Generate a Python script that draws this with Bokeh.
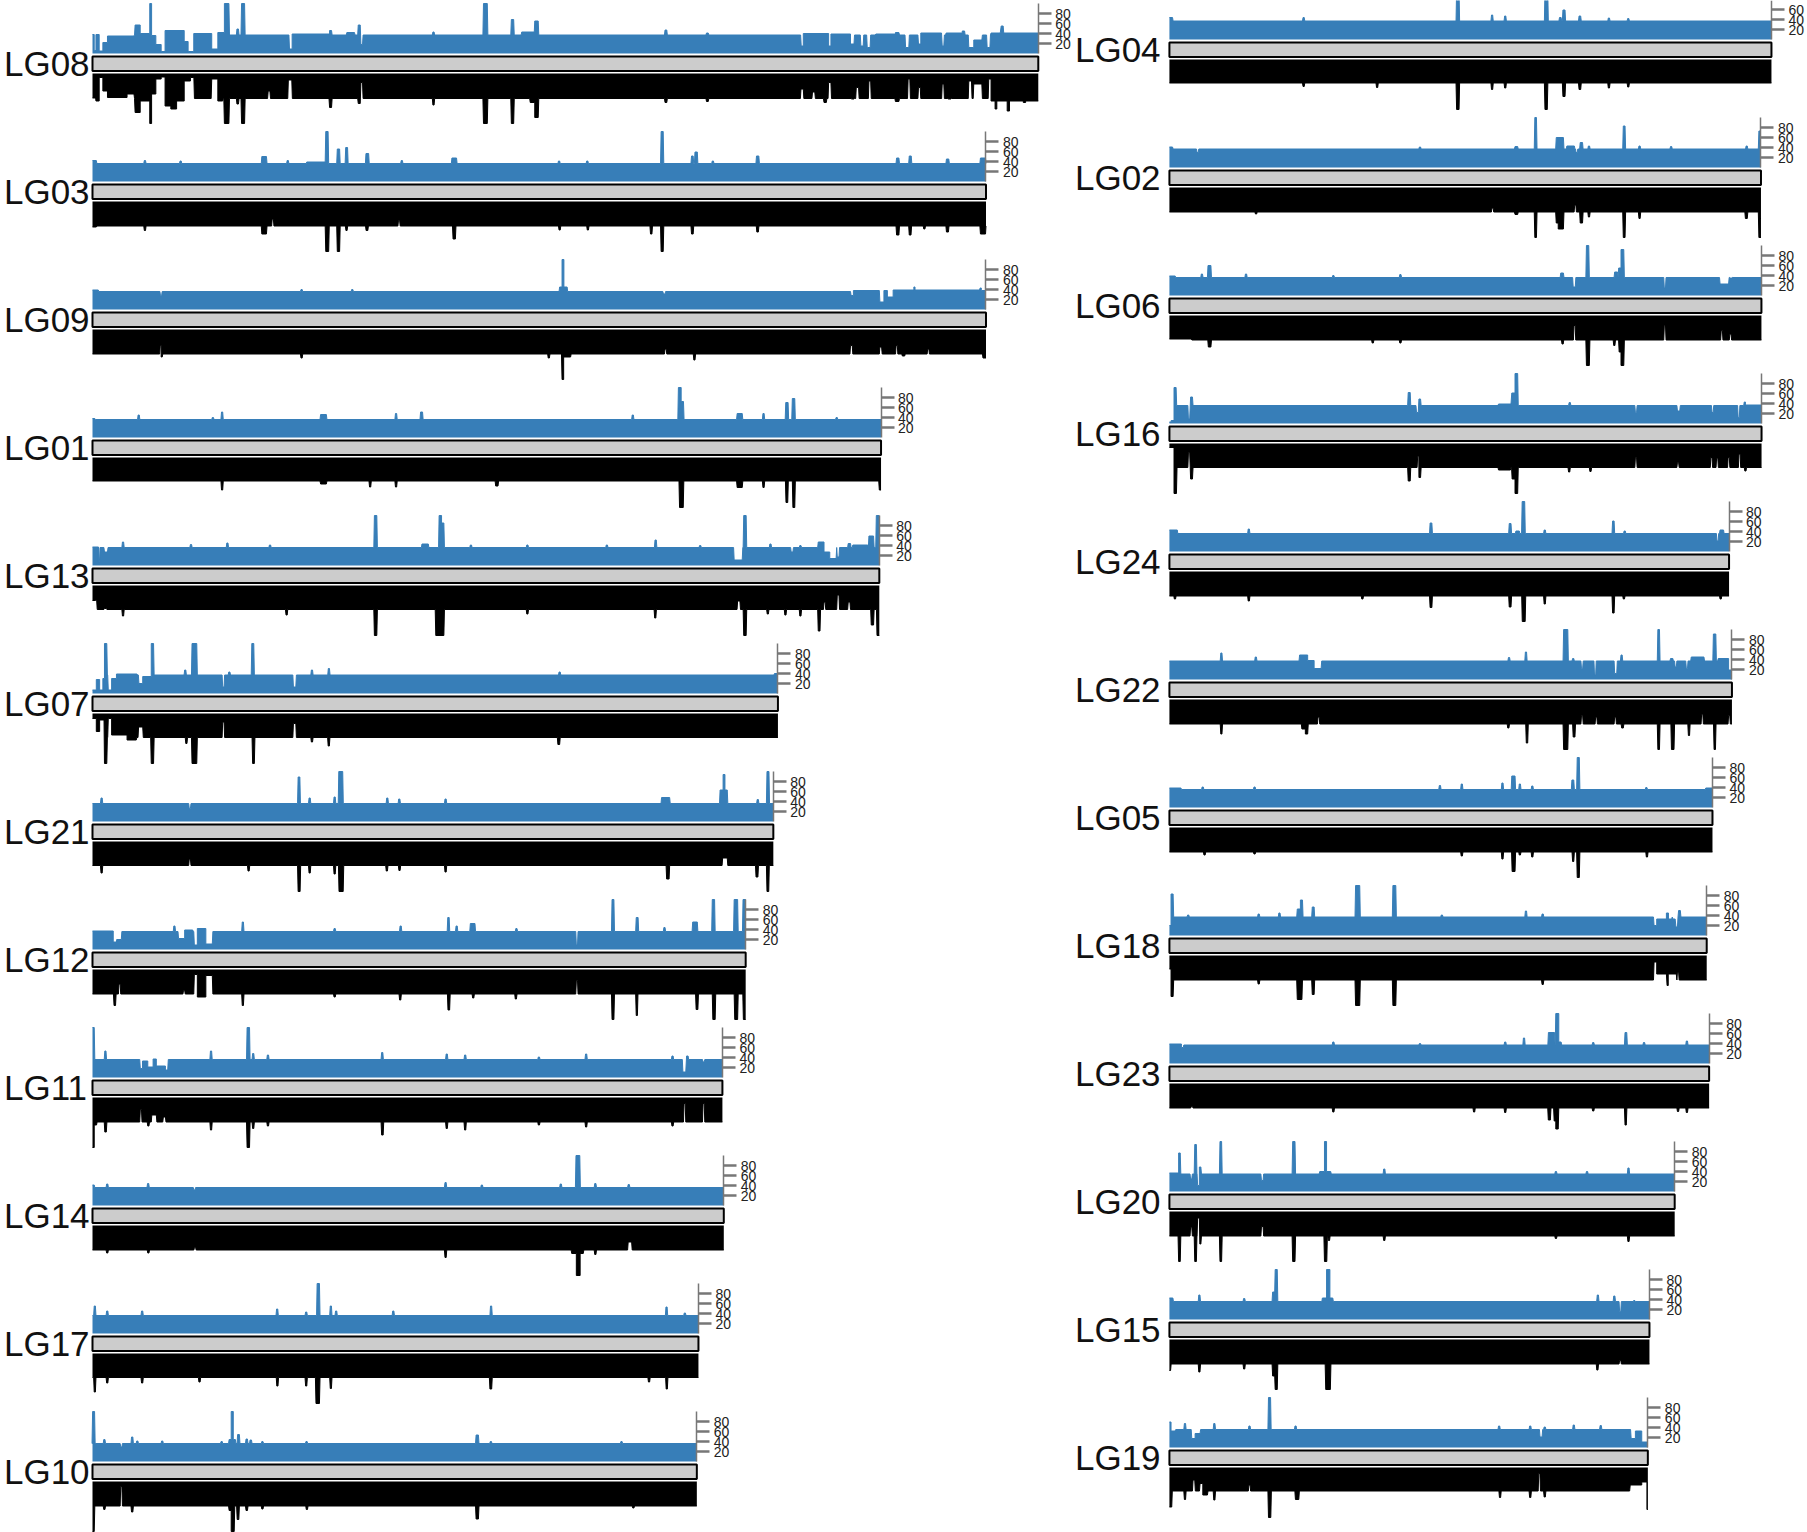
# read depth plots for the 24 linkage groups, blue up / black down with the ideogram between
from bokeh.core.properties import value
from bokeh.embed import file_html
from bokeh.layouts import column, row
from bokeh.models import FixedTicker, LinearAxis, Range1d
from bokeh.plotting import figure
from bokeh.resources import INLINE

# each list holds (from bin, to bin, depth), the rest of a group stays on its base depth
LG08_len = 821
LG08_up_base = 37
LG08_up = [(0,1.5,38),(1.5,3,6),(3,5.8,38),(5.8,9,5),(9,13,22),(13,36,35),(37,41.4,57),(41.4,49.7,40),(49.7,51.3,100),(51.3,55,36),(55,59.6,18),(59.6,63,4),(63,79.6,46),(79.6,83,24),(83,87.9,4),(87.9,103.5,40),(103.5,108.8,9),(108.8,114.5,42),(114.5,118.4,100),(125.4,126.7,49),(129.4,132,100),(171,173.3,9),(173.3,205.8,39),(205.8,207.5,46),(220.8,227.4,42),(230.7,232.4,57),(233,234.4,18),(295.5,296.5,43),(339.4,342.7,100),(363.6,365.6,68),(372.6,383.5,43),(383.9,386.9,65),(497,498.5,47),(533,534.5,41),(615.2,617,15),(617,639,40),(639,641,15),(641,658,39),(658,661,19),(667,669,15),(672.5,675,12),(680,697,39),(697,700,42),(705.8,708.6,12),(717,719,19),(719,737,41),(737.6,739,15),(741,755,41),(755,757,45),(760.7,765,12),(765,772,27),(776.6,779,12),(780,788,41),(788.8,790.5,55),(791,821,41)]
LG08_down_base = 50
LG08_down = [(0,2.7,49),(3,5.8,55),(5.8,9,8),(9,13,35),(13,30,48),(30,36,41),(37,41.4,78),(41.4,49.7,55),(49.7,51.3,100),(51.3,55,41),(55,59.6,11),(59.6,63,7),(63,68,65),(68,73,71),(73,79.6,55),(79.6,85,15),(85,88,8),(103.5,108.8,11),(108.8,113,55),(114.5,118.4,100),(125.4,126.7,61),(129.4,132,100),(152.5,154,35),(170,173,13),(205.8,207.5,68),(230.7,232.4,60),(233,234.4,18),(295.5,296.5,63),(339.4,342.7,100),(363.6,365.6,100),(380,383.9,58),(383.9,386.9,88),(497,498.5,58),(533,534.5,56),(615,617,31),(625,627,37),(635,637,58),(639,641,18),(659,661,51),(663,665,28),(674,675.5,15),(697,700,56),(708,709.5,11),(717,718.5,28),(737.6,739,21),(743,745,51),(760.7,763,15),(765,772,21),(778,780,11),(780,783.5,55),(783.5,785,71),(785,794,55),(794,796,75),(796,808,55),(808,810,58),(810,821,55)]

LG03_len = 775.6
LG03_up_base = 36
LG03_up = [(0,3.3,42),(45,46,42),(76,77,41),(147,151,50),(169,170,42),(186,202,39),(202.5,204.5,100),(212.5,214.5,65),(219.8,221.4,68),(237.4,239.7,56),(268,269,42),(312,316,47),(404.5,405.5,41),(429,430,41),(493.6,495.4,100),(520,521.4,51),(523,525,59),(538,539,41),(576.4,578.4,51),(698,700,47),(709,710.7,51),(741.3,743.3,45),(770.8,775.2,47)]
LG03_down_base = 49
LG03_down = [(0,3.3,51),(45,46,58),(147,151,65),(156,157,35),(202.5,205,100),(212.5,214.5,100),(220,221,58),(237.5,239,58),(265.6,266.6,38),(313,315,75),(405,406,57),(429.5,430.5,57),(484.4,485.6,65),(493.6,495.4,100),(520,521.4,65),(576.7,578,61),(698,700,67),(709,710.5,67),(721.6,722.6,55),(741.3,743,61),(770.8,775.2,65)]

LG09_len = 775.6
LG09_up_base = 36
LG09_up = [(0,5,39),(59,60,28),(181,182,40),(225,226,40),(405.5,407.6,45),(407.6,409.2,100),(409.2,412,45),(495.6,497,31),(658.5,660.5,28),(660.5,683,38),(683.5,687,15),(687,690,38),(690,695,25),(695,713,39),(713,714,45),(714,770,39),(770.5,771.5,43),(771.5,775.6,38)]
LG09_down_base = 49
LG09_down = [(58.8,59.6,32),(59.6,60.5,55),(181,182,57),(395.6,396.6,57),(407.6,409,100),(409,415,55),(497,498,39),(522,523,61),(658,659.5,32),(683.5,685,35),(697.6,698.6,32),(703,705,53),(725,726,39),(773,775.6,57)]

LG01_len = 684.5
LG01_up_base = 36
LG01_up = [(0,2,38),(39.6,40.6,45),(104,105,40),(112,113,51),(198,203,46),(263,264,48),(284.8,286.5,51),(468.5,469.5,45),(508.6,511,100),(511,513,72),(559.6,564,48),(582,583,48),(601.8,603.8,70),(607.5,609.6,78),(645.5,646.5,40)]
LG01_down_base = 47
LG01_down = [(112,113,65),(198,203,53),(240.5,241.5,59),(263,264,59),(350,352,57),(509.6,512.8,100),(559.6,564,60),(582,583,60),(602,603.5,90),(608,609.6,100),(683,684.5,65)]

LG13_len = 683
LG13_up_base = 36
LG13_up = [(0,5.2,37),(5.2,6,7),(10.4,13,27),(26,27,47),(85,86,42),(116.6,117.6,45),(153.6,154.6,41),(244.7,246.8,100),(286,291.5,43),(300.9,303,100),(303,305,85),(328,329,41),(377,378,41),(446,447,41),(488.3,489.4,51),(527,528,40),(557,564,11),(565.3,567.4,100),(588,589,43),(606.5,608,27),(614,615,40),(630,635,47),(635,640,27),(640,645.5,14),(646.5,648,17),(656,658,44),(660,673,41),(674,678,59),(680.4,683,100)]
LG13_down_base = 48
LG13_down = [(0,2.6,30),(2.6,3.6,29),(10.4,12,46),(26,27,61),(168,169,59),(244.7,246.8,100),(298,305,100),(377,378,57),(488,489,65),(560,562,31),(565.3,567.4,100),(585.7,586.7,57),(601,602,59),(614,615,61),(630,631.5,91),(635,636,33),(646.5,648,19),(656,657.5,33),(676,678,79),(681,683,100)]

LG07_len = 595
LG07_up_base = 37
LG07_up = [(0,3.3,7),(3.3,6.2,28),(6.2,9,7),(9,10.4,30),(10.4,12.4,100),(13.7,16.6,7),(16.6,20.8,30),(20.8,38.6,39),(40.3,43.6,20),(43.6,51,34),(51,53,100),(80,81,47),(86.4,90.5,100),(113,114.2,13),(118.3,119.3,43),(138.3,140,100),(174.4,176.5,13),(190,191,47),(204.7,205.7,50),(405,406,43),(592,595,40)]
LG07_down_base = 48
LG07_down = [(0,3.3,10),(3.3,6.2,36),(6.2,10,13),(10.4,12.4,100),(13.7,16.6,10),(16.6,30,43),(30,38,53),(40,43.6,27),(51,53,100),(81,82,60),(86.4,90.5,100),(113,114.2,17),(139,140.5,100),(174.4,176.5,20),(190,191,57),(204.6,205.6,65),(404,405.5,62)]

LG21_len = 591
LG21_up_base = 36
LG21_up = [(7.4,8.4,47),(84,85,26),(178.5,180,89),(188,189,47),(209.7,210.7,49),(213.8,217.2,100),(255.4,256.4,47),(265.8,266.8,45),(306,307,45),(494,501,48),(544.8,547.4,63),(547.4,549,94),(549,551,63),(577,578,44),(585.5,587.2,100)]
LG21_down_base = 48
LG21_down = [(7.4,8.4,63),(84,85,35),(135,136,59),(178.5,180.2,100),(188,189,63),(209.7,210.7,65),(214,217.6,100),(255,256,59),(266,267,58),(306,307,61),(498.4,500.5,75),(547,551,33),(576,577.6,71),(585.5,587,100)]

LG12_len = 567
LG12_up_base = 36
LG12_up = [(0,18,37),(18,20.8,15),(21,25,20),(70.6,71.6,47),(74.7,80,22),(80,87,39),(88.4,91,9),(91,98.4,42),(98.4,104,11),(130,131,55),(209.7,210.7,42),(267,268,47),(308.4,309.6,64),(315.6,316.6,47),(328,332,52),(367.5,368.5,42),(420,421,9),(451,452.6,100),(472,473.6,64),(496,497,44),(521,525,55),(538,540,100),(557,560,100),(564.7,567,100)]
LG12_down_base = 49
LG12_down = [(18.7,20,72),(23,24,29),(79,80,42),(88.4,91,10),(91,98.4,55),(98.4,104,12),(130,131,72),(209.7,210.7,55),(266.6,267.6,61),(308.6,310,81),(330,331,57),(367,368,59),(420,421,22),(451,452.6,100),(472,473,92),(524,525.5,80),(538.5,540.5,100),(557.5,560,100),(565,567,100)]

LG11_len = 546.8
LG11_up_base = 36
LG11_up = [(0,1.5,100),(10.7,11.7,53),(41.5,43.4,18),(43.4,48,33),(48,52.6,21),(52.6,55.4,37),(55.4,63.3,23),(63.3,65.3,15),(102.4,103.4,53),(134.2,136.3,100),(139,140,48),(151.8,152.8,45),(251,252,50),(307,308,47),(323,324,45),(387,388,41),(428,429,47),(503,504,43),(512.5,515,11),(515.7,517,43),(530,531,31)]
LG11_down_base = 49
LG11_down = [(0,1.5,100),(1.5,3.5,55),(10.7,12,69),(41.5,42.5,24),(48,49,57),(51.5,55.4,35),(61.5,63.3,39),(102.4,103.4,65),(134.2,136.3,100),(139,140,62),(151.8,152.8,57),(251,252.3,75),(307,308,62),(323,324,65),(387,388,55),(428,429,59),(503,504,57),(513.5,514.5,12),(530,531,12)]

LG14_len = 548
LG14_up_base = 36
LG14_up = [(0,1.5,41),(12.3,13.3,43),(47.8,48.8,44),(88,89,31),(306,307,46),(337.5,338.5,41),(406,407,43),(419.7,423,100),(436,437,44),(465,466,42)]
LG14_down_base = 49
LG14_down = [(12.3,13.3,55),(48,49,55),(88.5,89.5,44),(306,307,64),(416,420,56),(420,423.3,100),(423.3,426,56),(436,437,58),(465,468,33)]

LG17_len = 526
LG17_up_base = 36
LG17_up = [(1.5,2.5,55),(12.3,13.3,45),(42.6,43.6,45),(159.8,160.8,49),(185,186,43),(195,197,100),(206.4,207.4,55),(211,212,45),(260.6,261.6,45),(345.5,346.5,55),(497.8,498.8,53),(513.7,514.7,41)]
LG17_down_base = 48
LG17_down = [(1.5,2.5,77),(12.3,13.3,59),(42.6,43.6,59),(92.4,93.4,57),(160,161,65),(185,186,65),(194,197,100),(206.4,207.4,70),(345,346.5,71),(482.6,483.6,57),(498,499,71)]

LG10_len = 524.6
LG10_up_base = 36
LG10_up = [(0.1,1.8,100),(9.8,10.8,44),(24.5,25.5,29),(33.9,35,49),(38.4,39.4,41),(60,61,41),(111.6,112.6,40),(118.6,120.4,44),(120.4,122.2,100),(122.2,124,44),(126,127.5,54),(133.3,134.5,45),(136.8,138,43),(147,148,40),(185.3,186.3,40),(333,335,53),(345.3,346.3,40),(458.7,459.7,40)]
LG10_down_base = 49
LG10_down = [(0,1.5,100),(9.8,10.8,56),(24.5,25.5,10),(33.9,35,61),(118.6,120.4,58),(120.4,123,100),(125.6,127,76),(133.3,134.5,58),(147,148,55),(185.6,186.6,56),(333,335,75),(469,470,53)]

LG04_len = 522.6
LG04_up_base = 37
LG04_up = [(0,2.7,44),(116,117,44),(249.3,251.4,100),(279.6,280.6,49),(291,292,47),(326,328.4,100),(338.6,340,44),(341.6,343.4,59),(355.6,357,47),(381,382,43),(397.8,398.8,42)]
LG04_down_base = 47
LG04_down = [(116,117,54),(179.8,180.8,56),(249.3,251.4,100),(279.6,280.6,60),(291,292,57),(326,328,100),(341.6,343.4,74),(355.6,357,60),(381,382,57),(397.8,398.8,55)]

LG02_len = 513.5
LG02_up_base = 37
LG02_up = [(0,2.7,41),(24,25,30),(217,218,41),(300,302.3,42),(317.2,318.6,100),(335.8,342,60),(345,351.5,43),(353,354,30),(356.6,358.6,50),(363.7,364.7,43),(394,395.5,83),(407.6,408.6,43),(435,436,42),(500.6,501.6,43),(511.7,513.5,73)]
LG02_down_base = 49
LG02_down = [(74.7,75.7,53),(280,281,41),(300,302.3,54),(317.2,318.6,100),(335.8,337.5,71),(337.5,342,83),(351.8,352.8,35),(356.6,358.6,71),(363.7,364.7,59),(394,395.5,100),(407.6,408.6,62),(500,501.6,62),(511.7,513.5,100)]

LG06_len = 513.9
LG06_up_base = 36
LG06_up = [(0,5,39),(27.7,28.7,43),(33.5,36,60),(66,67,43),(141.8,142.8,40),(200,201,42),(339.7,342,45),(350.5,352.3,17),(362,364,100),(386.5,389,47),(390,392,55),(392,394.4,92),(429.6,430.6,15),(478,485.4,23),(487,488,35)]
LG06_down_base = 49
LG06_down = [(0,19,47),(33.8,36,63),(176,177,55),(200,201,55),(340.8,341.8,57),(351.2,352.2,20),(362,364.5,100),(385.7,386.7,60),(390.4,392,73),(392,394.4,100),(429.6,430.6,19),(479,480,30),(486.5,487.5,37)]

LG16_len = 514
LG16_up_base = 36
LG16_up = [(0,1.5,3),(1.5,4,6),(4,5.8,72),(16.5,17.6,9),(18.4,20,53),(207.3,209,62),(214.5,216,22),(216.6,218,49),(285.7,296.5,39),(297.2,300,61),(300,302.3,100),(347,348,42),(404.5,405.5,22),(441,443,25),(471,472,22),(493.7,494.7,12),(499,500,43),(500,514,37)]
LG16_down_base = 48
LG16_down = [(0,4,8),(4,6.1,100),(16.5,17.6,18),(18.4,20,71),(207.3,209,75),(215.5,216.5,25),(216.6,218,68),(285.7,296,53),(297.5,300,71),(300,302.3,100),(346.5,347.5,57),(365,366,56),(404.5,405.5,28),(441,442,38),(470,471,28),(475,476,29),(485,486,28),(494.4,495.4,21),(499.5,500.5,55)]

LG24_len = 485.8
LG24_up_base = 36
LG24_up = [(0,6.8,43),(68.4,69.4,45),(226.3,227.8,57),(295,296.5,56),(300.8,303.7,41),(306.2,308.4,100),(325.3,326.3,43),(384.7,386,61),(394.7,395.7,41),(475.3,476.3,21),(478,481,43)]
LG24_down_base = 49
LG24_down = [(4.3,5.3,55),(68.4,69.4,59),(167,168,55),(226.3,227.8,72),(295,296.5,71),(306.3,308.8,100),(325.3,326.3,65),(384.7,386,83),(394,395,55),(478,479,55)]

LG22_len = 488.3
LG22_up_base = 37
LG22_up = [(44.6,45.6,53),(74.5,75.5,45),(113,120,49),(120,125.6,38),(125.6,131.7,22),(294.3,295.3,44),(309,310,55),(342.2,345.8,100),(350,351,42),(357.7,358.7,22),(369,370,9),(386.5,388.3,12),(392,393,49),(424,425.4,100),(435,437,42),(439,440,25),(448.7,449.7,22),(453,464,45),(472.2,474.3,91),(476.4,485.4,42),(485.4,488.3,19)]
LG22_down_base = 49
LG22_down = [(44.6,45.6,69),(115,118,59),(118,120,69),(129,130,35),(293.7,294.7,57),(309.8,311,87),(342.2,345.8,100),(350.5,352,75),(357.7,358.7,32),(370,371,35),(386.5,387.5,35),(392.6,394,57),(424,425.4,100),(435.8,438,100),(450.5,451.5,72),(462,463,29),(472.8,474,100),(485.4,486.4,32)]

LG05_len = 471.4
LG05_up_base = 36
LG05_up = [(0,10,39),(28.4,29.4,41),(73.4,74.4,41),(234.3,235.3,44),(253.3,254.3,47),(288.6,289.6,49),(297.2,300,63),(303.7,304.7,47),(314.5,315.5,43),(349.4,351,55),(354,355.8,100),(413.5,414.5,40),(465.6,471.4,39)]
LG05_down_base = 49
LG05_down = [(30,31,55),(73.4,74.4,53),(253.3,254.3,57),(288.6,289.6,63),(297.5,300,88),(303.7,304.7,55),(314.5,315.5,59),(350,351,68),(354,355.8,100),(414,415,59)]

LG18_len = 466.4
LG18_up_base = 37
LG18_up = [(0,1.4,20),(1.4,3.2,83),(15.8,16.8,41),(77,78,43),(95,96,45),(111,113.7,53),(113.7,115.5,71),(124,125.6,57),(161.6,165.2,100),(194,196.5,100),(236,237,41),(309,310,49),(323.5,324.5,43),(420.7,423,20),(423,431.4,33),(431.4,433.2,45),(433.2,436,33),(437,439,33),(439.7,441,17),(442,443.5,50)]
LG18_down_base = 49
LG18_down = [(0,1.4,27),(1.4,3.2,82),(77,78,57),(111,115,88),(124,125.6,78),(161.6,165.2,100),(194,196.5,100),(323.5,324.5,58),(420.7,423,13),(423,431.4,37),(432,433,60),(433,440,37),(441,442,33)]

LG23_len = 468.5
LG23_up_base = 37
LG23_up = [(0,10.4,39),(10.4,12,32),(141.8,142.8,43),(217,218,40),(291,292,43),(307.3,308.3,51),(329,334.3,62),(335.4,338,100),(338,340,43),(367.4,368.4,42),(395.5,397,62),(411.5,412.5,42),(448.7,449.7,45)]
LG23_down_base = 49
LG23_down = [(19,20,46),(141.8,142.8,57),(264,265,57),(291,292,58),(328.9,330.7,73),(334,335.4,75),(335.4,337.5,91),(367.4,368.4,55),(395.5,396.6,83),(441,442,56),(448.7,449.7,58)]

LG20_len = 438.6
LG20_up_base = 35
LG20_up = [(0,8,37),(8,9.4,77),(18.4,19.4,25),(22,23.4,94),(24.5,26,12),(26,27.3,49),(43.9,45.3,100),(79.9,81.3,22),(107,109,100),(130.5,134.6,40),(134.6,136.4,100),(136.4,140,40),(186,187,45),(335,336,40),(362,363,40),(398,399,47)]
LG20_down_base = 49
LG20_down = [(8,9.4,100),(18.4,19.4,31),(22,23.4,100),(24.5,26,13),(26.4,27.3,65),(43.9,45.3,100),(79.9,81.3,30),(107,109,100),(134.6,136.6,100),(138,139,58),(186,187,58),(335,336,54),(398,399,60)]

LG15_len = 416.7
LG15_up_base = 36
LG15_up = [(0,3,43),(25.5,26.5,49),(64.4,65.4,42),(89.6,91.4,55),(91.8,93.6,100),(132.8,136.4,43),(136.4,139.3,100),(139.3,141.8,43),(371.4,372.4,49),(385.7,386.7,47),(390.8,391.8,16),(403,404,38)]
LG15_down_base = 49
LG15_down = [(0,1,62),(25.5,26.5,65),(64.4,65.4,59),(89.6,91.4,73),(91.8,93.6,100),(135.7,139.7,100),(371,372,61),(390.8,391.8,42)]

LG19_len = 415.3
LG19_up_base = 36
LG19_up = [(0,1.4,51),(1.4,5,33),(13,14,48),(19.4,22.3,18),(22.3,26.6,28),(38.5,39.5,48),(69,70,43),(86,87.8,100),(109,110,43),(285.7,286.7,43),(312.7,313.7,43),(321.7,323.5,21),(325.3,326.3,41),(350.5,351.5,45),(373.9,374.9,44),(400.8,404.5,18),(404.5,410,33),(410,415.3,11)]
LG19_down_base = 47
LG19_down = [(0,2,79),(13,14,64),(20.5,22,25),(26.6,29,32),(29,33,55),(38.5,39.5,65),(69,70,35),(86,88,100),(109.4,112.3,64),(286.5,287.5,60),(312.7,313.7,60),(320.6,321.6,12),(325.3,326.3,59),(400,410,35),(410,414.5,29),(414.5,415.3,84)]

LEFT_COLUMN = [
    ("LG08", LG08_len, LG08_up_base, LG08_up, LG08_down_base, LG08_down),
    ("LG03", LG03_len, LG03_up_base, LG03_up, LG03_down_base, LG03_down),
    ("LG09", LG09_len, LG09_up_base, LG09_up, LG09_down_base, LG09_down),
    ("LG01", LG01_len, LG01_up_base, LG01_up, LG01_down_base, LG01_down),
    ("LG13", LG13_len, LG13_up_base, LG13_up, LG13_down_base, LG13_down),
    ("LG07", LG07_len, LG07_up_base, LG07_up, LG07_down_base, LG07_down),
    ("LG21", LG21_len, LG21_up_base, LG21_up, LG21_down_base, LG21_down),
    ("LG12", LG12_len, LG12_up_base, LG12_up, LG12_down_base, LG12_down),
    ("LG11", LG11_len, LG11_up_base, LG11_up, LG11_down_base, LG11_down),
    ("LG14", LG14_len, LG14_up_base, LG14_up, LG14_down_base, LG14_down),
    ("LG17", LG17_len, LG17_up_base, LG17_up, LG17_down_base, LG17_down),
    ("LG10", LG10_len, LG10_up_base, LG10_up, LG10_down_base, LG10_down),
]
RIGHT_COLUMN = [
    ("LG04", LG04_len, LG04_up_base, LG04_up, LG04_down_base, LG04_down),
    ("LG02", LG02_len, LG02_up_base, LG02_up, LG02_down_base, LG02_down),
    ("LG06", LG06_len, LG06_up_base, LG06_up, LG06_down_base, LG06_down),
    ("LG16", LG16_len, LG16_up_base, LG16_up, LG16_down_base, LG16_down),
    ("LG24", LG24_len, LG24_up_base, LG24_up, LG24_down_base, LG24_down),
    ("LG22", LG22_len, LG22_up_base, LG22_up, LG22_down_base, LG22_down),
    ("LG05", LG05_len, LG05_up_base, LG05_up, LG05_down_base, LG05_down),
    ("LG18", LG18_len, LG18_up_base, LG18_up, LG18_down_base, LG18_down),
    ("LG23", LG23_len, LG23_up_base, LG23_up, LG23_down_base, LG23_down),
    ("LG20", LG20_len, LG20_up_base, LG20_up, LG20_down_base, LG20_down),
    ("LG15", LG15_len, LG15_up_base, LG15_up, LG15_down_base, LG15_down),
    ("LG19", LG19_len, LG19_up_base, LG19_up, LG19_down_base, LG19_down),
]
DEPTH_TICKS = [20, 40, 60, 80]

BLUE = "#377EB8"
LABEL_FONT = "Liberation Sans"
PX_PER_BIN = 1.152
PX_PER_DEPTH = 0.5
IDEOGRAM = (-6, -35)
DOWN_START = -40
EDGE = 0.5  # bins a span needs to leave and rejoin the base depth


def outline(length, base, spans):
    spans = sorted(spans)
    xs, ys = [], []
    if spans[0][0] > 0:
        xs += [0, spans[0][0] - EDGE]
        ys += [base, base]
    for i, (a, b, v) in enumerate(spans):
        next_a = spans[i + 1][0] if i + 1 < len(spans) else length + 2 * EDGE
        xs += [a, b]
        ys += [v, v]
        if next_a - b >= 2 * EDGE:
            if b + EDGE < length:
                xs.append(b + EDGE)
                ys.append(base)
            if i + 1 < len(spans) and next_a - EDGE > b + EDGE:
                xs.append(next_a - EDGE)
                ys.append(base)
    if xs[-1] < length:
        xs.append(length)
        ys.append(base)
    return xs, ys


def panel(name, length, up_base, up, down_base, down, x_start, width, above, below):
    p = figure(width=width, height=above + below, output_backend="svg", toolbar_location=None,
               x_range=Range1d(x_start, x_start + width / PX_PER_BIN),
               y_range=Range1d(-below / PX_PER_DEPTH, above / PX_PER_DEPTH),
               x_axis_location=None, y_axis_location=None,
               min_border=0, outline_line_color=None, margin=0)
    p.grid.visible = False

    xs, ys = outline(length, up_base, up)
    p.varea(x=xs, y1=[0] * len(xs), y2=ys, fill_color=BLUE)
    p.line(xs, ys, line_color=BLUE, line_width=1)

    p.quad(left=[0], right=[length], top=[IDEOGRAM[0]], bottom=[IDEOGRAM[1]],
           fill_color="#CCCCCC", line_color="black", line_width=2)

    xs, ys = outline(length, down_base, down)
    ys = [DOWN_START - y for y in ys]
    p.varea(x=xs, y1=[DOWN_START] * len(xs), y2=ys, fill_color="black")
    p.line(xs, ys, line_color="black", line_width=1)

    p.text(x=[x_start + 3], y=[-20], text=[name], text_font=value(LABEL_FONT),
           text_font_size="35px", text_baseline="middle", text_color="#111111")

    axis = LinearAxis(fixed_location=length, ticker=FixedTicker(ticks=DEPTH_TICKS), bounds=(0, 100),
                      axis_line_color="#777777", axis_line_width=1.5,
                      major_tick_line_color="#777777", major_tick_line_width=2.5,
                      major_tick_in=0, major_tick_out=13, minor_tick_line_color=None,
                      major_label_standoff=4, major_label_text_font=LABEL_FONT,
                      major_label_text_font_size="14px", major_label_text_color="#222222")
    p.add_layout(axis, "right")
    return p


left = []
for i, g in enumerate(LEFT_COLUMN):
    # the last panel runs into the foot of the page
    left.append(panel(*g, x_start=-79.86, width=1071, above=53, below=71 if i == 11 else 75))
right = []
for i, g in enumerate(RIGHT_COLUMN):
    # the first panel starts above the top edge, so it is cut there
    right.append(panel(*g, x_start=-85, width=735, above=39 if i == 0 else 53, below=75))

page = row(column(*left, spacing=0, margin=0), column(*right, spacing=0, margin=0), spacing=0, margin=0)
open("out.html", "w").write(file_html(page, INLINE))
